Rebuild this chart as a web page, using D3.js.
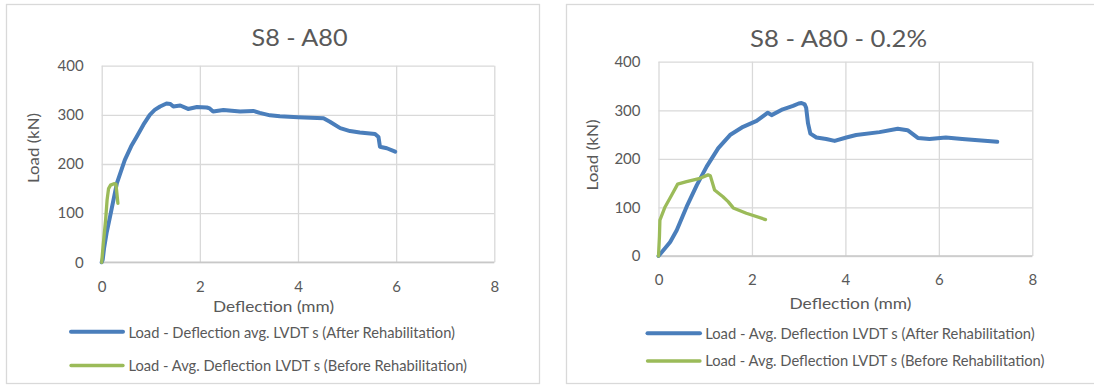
<!DOCTYPE html>
<html>
<head>
<meta charset="utf-8">
<script src="https://cdn.jsdelivr.net/npm/d3@7"></script>
<style>
  html, body { margin: 0; padding: 0; background: #fff; }
  svg { display: block; font-family: Lato, "Open Sans", sans-serif; }
</style>
</head>
<body>
<svg id="chart" width="1094" height="385"></svg>
<script>
// Axis ticks shared by both panels
const xTicks = [0, 2, 4, 6, 8];
const yTicks = [0, 100, 200, 300, 400];

// Panel 1: S8 - A80
const a80AfterDefl = [0, 0.02, 0.05, 0.10, 0.17, 0.31, 0.47, 0.60, 0.71, 0.85, 0.98, 1.08, 1.19, 1.32, 1.40, 1.46, 1.60, 1.76, 1.94, 2.14, 2.20, 2.27, 2.48, 2.82, 3.09, 3.22, 3.43, 3.63, 4.00, 4.52, 4.65, 4.86, 5.06, 5.26, 5.57, 5.64, 5.67, 5.81, 5.98];
const a80AfterLoad = [0, 5, 30, 60, 93, 161, 208, 236, 255, 280, 300, 310, 317, 323, 322, 317, 319, 312, 316, 315, 313, 307, 310, 307, 308, 304, 299, 297, 295, 293, 286, 273, 267, 264, 261, 255, 235, 232, 225];
const a80BeforeDefl = [0, 0.03, 0.08, 0.11, 0.14, 0.18, 0.25, 0.29, 0.31, 0.33];
const a80BeforeLoad = [0, 35, 86, 127, 150, 157, 160, 159, 140, 120];

// Panel 2: S8 - A80 - 0.2%
const a80pAfterDefl = [0, 0.14, 0.25, 0.39, 0.60, 0.82, 1.03, 1.28, 1.53, 1.81, 2.10, 2.34, 2.42, 2.66, 2.88, 3.00, 3.06, 3.13, 3.16, 3.20, 3.25, 3.38, 3.59, 3.77, 4.02, 4.23, 4.73, 5.12, 5.33, 5.55, 5.80, 6.15, 6.50, 7.25];
const a80pAfterLoad = [0, 16, 29, 53, 101, 146, 184, 222, 249, 266, 278, 295, 290, 302, 309, 314, 315, 312, 305, 273, 252, 244, 241, 237, 244, 249, 255, 262, 259, 243, 241, 244, 241, 235];
const a80pBeforeDefl = [0, 0.02, 0.03, 0.14, 0.28, 0.41, 0.60, 0.89, 1.06, 1.11, 1.20, 1.38, 1.49, 1.60, 1.88, 2.29];
const a80pBeforeLoad = [0, 40, 74, 101, 125, 148, 153, 160, 167, 165, 136, 122, 112, 99, 88, 75];

const zip = (xs, ys) => xs.map((x, i) => [x, ys[i]]);

const BLUE = "#4a7ebb";
const GREEN = "#9bbb59";
const TEXT = "#595959";
const GRID = "#d9d9d9";

const svg = d3.select("#chart");

// Stretch/squeeze a text element to a given advance width
function fitText(sel, width) {
  sel.attr("textLength", width).attr("lengthAdjust", "spacingAndGlyphs");
}

function drawPanel(p) {
  const g = svg.append("g");

  // chart frame
  g.append("rect")
    .attr("x", p.frame[0]).attr("y", p.frame[1])
    .attr("width", p.frame[2]).attr("height", p.frame[3])
    .attr("fill", "#fff").attr("stroke", GRID).attr("stroke-width", 1.3);

  const x = d3.scaleLinear().domain([0, 8]).range([p.plot[0], p.plot[1]]);
  const y = d3.scaleLinear().domain([0, 400]).range([p.plot[2], p.plot[3]]);

  // gridlines
  const gx = g.append("g")
    .attr("transform", `translate(0,${p.plot[2]})`)
    .call(d3.axisBottom(x).tickValues(xTicks).tickSize(-(p.plot[2] - p.plot[3])).tickFormat(""));
  const gy = g.append("g")
    .attr("transform", `translate(${p.plot[0]},0)`)
    .call(d3.axisLeft(y).tickValues(yTicks).tickSize(-(p.plot[1] - p.plot[0])).tickFormat(""));
  [gx, gy].forEach(a => {
    a.select(".domain").remove();
    a.selectAll("line").attr("stroke", GRID).attr("stroke-width", 1.3);
  });
  // horizontal axis line, a touch darker
  g.append("line")
    .attr("x1", p.plot[0]).attr("x2", p.plot[1])
    .attr("y1", p.plot[2]).attr("y2", p.plot[2])
    .attr("stroke", "#c8c8c8").attr("stroke-width", 1.5);

  // tick labels
  const ax = g.append("g")
    .attr("transform", `translate(0,${p.plot[2]})`)
    .call(d3.axisBottom(x).tickValues(xTicks).tickSize(0).tickPadding(p.xTickPad).tickFormat(d3.format("d")));
  const ay = g.append("g")
    .attr("transform", `translate(${p.plot[0]},0)`)
    .call(d3.axisLeft(y).tickValues(yTicks).tickSize(0).tickPadding(p.yTickPad).tickFormat(d3.format("d")));
  [ax, ay].forEach(a => {
    a.select(".domain").remove();
    a.selectAll("text").attr("fill", TEXT).style("font-size", "15px").style("font-family", "Lato, sans-serif");
  });

  // title
  const t = g.append("text")
    .attr("x", p.title.x).attr("y", p.title.y)
    .attr("fill", TEXT).style("font-size", "24px")
    .text(p.title.text);
  fitText(t, p.title.w);

  // axis titles
  const xt = g.append("text")
    .attr("x", p.xTitle.x).attr("y", p.xTitle.y)
    .attr("fill", TEXT).style("font-size", "16px")
    .text("Deflection (mm)");
  fitText(xt, p.xTitle.w);

  const yt = g.append("text")
    .attr("transform", `translate(${p.yTitle.x},${p.yTitle.y + p.yTitle.w / 2}) rotate(-90)`)
    .attr("dy", "0.35em")
    .attr("fill", TEXT).style("font-size", "16px")
    .text("Load (kN)");
  fitText(yt, p.yTitle.w);

  // series
  const line = d3.line().curve(d3.curveMonotoneX).x(d => x(d[0])).y(d => y(d[1]));
  const lineRaw = d3.line().x(d => x(d[0])).y(d => y(d[1]));
  g.append("path").datum(p.after)
    .attr("d", lineRaw).attr("fill", "none")
    .attr("stroke", BLUE).attr("stroke-width", 4)
    .attr("stroke-linejoin", "round").attr("stroke-linecap", "round");
  g.append("path").datum(p.before)
    .attr("d", lineRaw).attr("fill", "none")
    .attr("stroke", GREEN).attr("stroke-width", 3.3)
    .attr("stroke-linejoin", "round").attr("stroke-linecap", "round");

  // legend
  p.legend.forEach(item => {
    g.append("line")
      .attr("x1", item.x1).attr("x2", item.x2)
      .attr("y1", item.y).attr("y2", item.y)
      .attr("stroke", item.color).attr("stroke-width", item.sw)
      .attr("stroke-linecap", "round");
    const lt = g.append("text")
      .attr("x", item.tx).attr("y", item.ty)
      .attr("fill", TEXT).style("font-size", "15px")
      .text(item.label);
    fitText(lt, item.w);
  });
}

drawPanel({
  frame: [6.5, 4.5, 533, 379],
  plot: [101.7, 494.3, 262.3, 65.7],
  xTickPad: 19, yTickPad: 18,
  title: { text: "S8 - A80", x: 251.5, y: 45.7, w: 96 },
  xTitle: { x: 213, y: 311.7, w: 121 },
  yTitle: { x: 33, y: 148, w: 70 },
  after: zip(a80AfterDefl, a80AfterLoad),
  before: zip(a80BeforeDefl, a80BeforeLoad),
  legend: [
    { label: "Load - Deflection avg. LVDT s (After Rehabilitation)", color: BLUE, sw: 4,
      x1: 71, x2: 123, y: 331.7, tx: 128.5, ty: 337.7, w: 326.5 },
    { label: "Load - Avg. Deflection LVDT s (Before Rehabilitation)", color: GREEN, sw: 3.3,
      x1: 71, x2: 123, y: 365.5, tx: 128.5, ty: 371, w: 338.5 }
  ]
});

drawPanel({
  frame: [566.5, 4.5, 540, 379],
  plot: [658.5, 1032.3, 256, 61.7],
  xTickPad: 18, yTickPad: 18,
  title: { text: "S8 - A80 - 0.2%", x: 750, y: 46.7, w: 177 },
  xTitle: { x: 789.5, y: 309.3, w: 122 },
  yTitle: { x: 592, y: 155, w: 71 },
  after: zip(a80pAfterDefl, a80pAfterLoad),
  before: zip(a80pBeforeDefl, a80pBeforeLoad),
  legend: [
    { label: "Load - Avg. Deflection LVDT s (After Rehabilitation)", color: BLUE, sw: 4,
      x1: 647.5, x2: 700, y: 333.3, tx: 705.2, ty: 338.7, w: 329.5 },
    { label: "Load - Avg. Deflection LVDT s (Before Rehabilitation)", color: GREEN, sw: 3.3,
      x1: 647.5, x2: 700, y: 361, tx: 705.2, ty: 366.3, w: 339.3 }
  ]
});
</script>
</body>
</html>
